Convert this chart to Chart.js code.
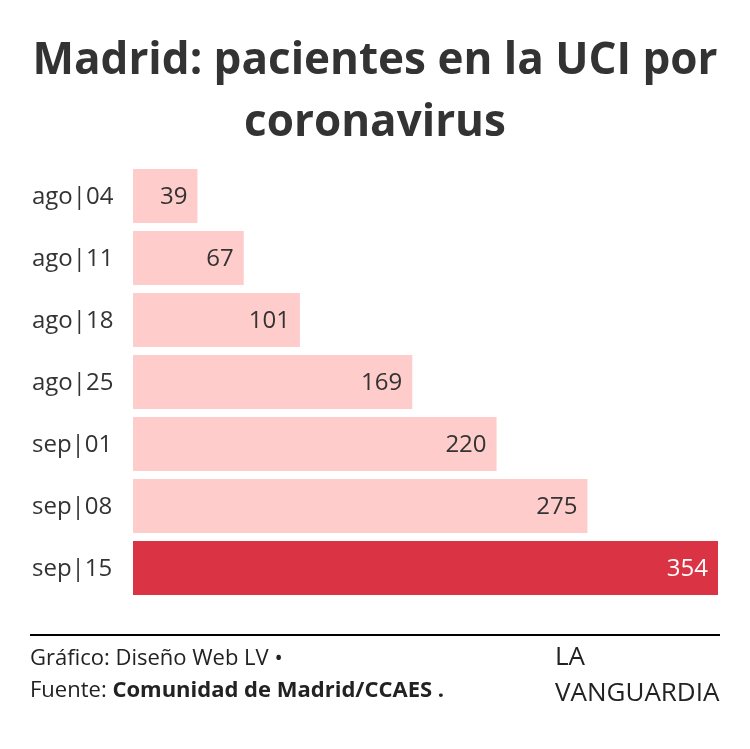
<!DOCTYPE html>
<html><head><meta charset="utf-8">
<style>
html,body{margin:0;padding:0;background:#fff;width:750px;height:749px;overflow:hidden}
canvas{position:absolute;left:0;top:0}
div.t{position:absolute;font-family:"Open Sans";color:#333;white-space:nowrap}
#title{left:0;width:750px;top:26px;text-align:center;font-size:44px;line-height:62px;font-weight:700;white-space:normal}
#rule{position:absolute;left:30px;top:634px;width:690px;height:2px;background:#000}
</style></head><body>
<canvas id="c" width="750" height="749" style="width:750px;height:749px"></canvas>
<div class="t" id="title">Madrid: pacientes en la UCI por<br>coronavirus</div>
<div id="rule"></div>
<div class="t" style="left:30px;top:641px;font-size:22px;line-height:30px;color:#222">Gráfico: Diseño Web LV •</div>
<div class="t" style="left:30px;top:673px;font-size:22px;line-height:30px;color:#222">Fuente: <b>Comunidad de Madrid/CCAES .</b></div>
<div class="t" style="left:555px;top:637px;font-size:26px;line-height:36px;color:#222">LA<br>VANGUARDIA</div>
<script src="https://cdn.jsdelivr.net/npm/chart.js@4"></script>
<script>
const categories=["ago|04","ago|11","ago|18","ago|25","sep|01","sep|08","sep|15"];
const values=[39,67,101,169,220,275,354];
const barColors=["#ffcccc","#ffcccc","#ffcccc","#ffcccc","#ffcccc","#ffcccc","#da3344"];
const labelColors=["#333","#333","#333","#333","#333","#333","#fff"];
const valueLabels={id:"valueLabels",afterDatasetsDraw(ch){
  const c=ch.ctx;c.save();c.font='24px "Open Sans"';c.textAlign="right";c.textBaseline="middle";
  ch.getDatasetMeta(0).data.forEach((b,i)=>{c.fillStyle=labelColors[i];c.fillText(String(values[i]),b.x-10,b.y+1);});
  c.restore();}};
new Chart(document.getElementById("c"),{type:"bar",
 data:{labels:categories,datasets:[{data:values,backgroundColor:barColors,borderWidth:0,barPercentage:0.871,categoryPercentage:1}]},
 options:{indexAxis:"y",responsive:false,animation:false,
  layout:{padding:{left:32,right:32,top:165,bottom:150}},
  plugins:{legend:{display:false},tooltip:{enabled:false}},
  scales:{
   x:{min:0,max:354,display:false},
   y:{afterFit(s){s.width=101;},grid:{display:false},border:{display:false},
      ticks:{color:"#333",crossAlign:"far",labelOffset:1,font:{family:"Open Sans",size:24},padding:0}}
  }},
 plugins:[valueLabels]
});
</script>
</body></html>
